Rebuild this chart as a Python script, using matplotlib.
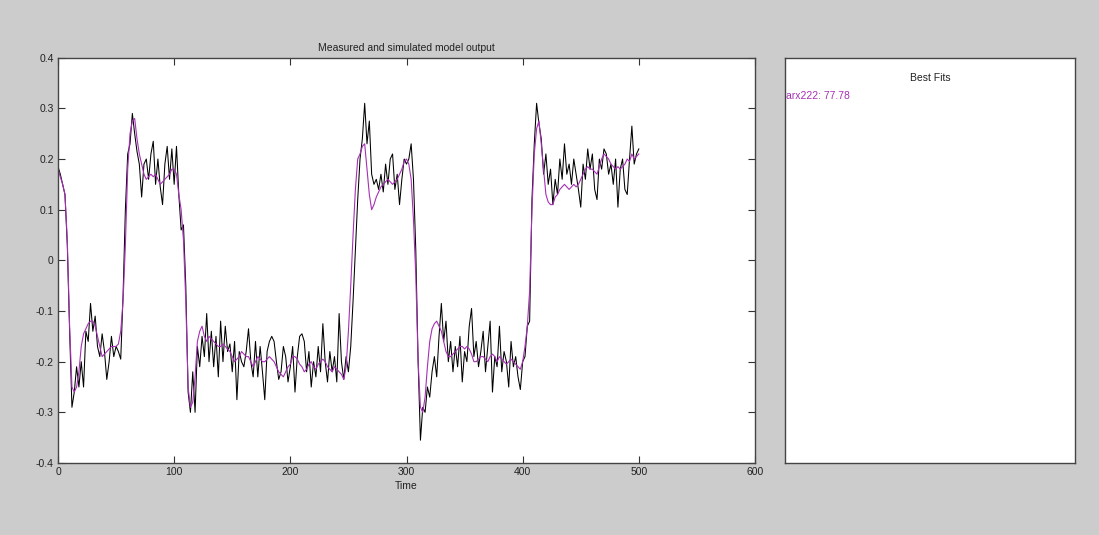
import numpy as np
import matplotlib
matplotlib.use("Agg")
import matplotlib.pyplot as plt

# Sample grid (every second time step)
time = np.arange(0, 501, 2)

# Measured output
measured = [
    0.185, 0.17, 0.15, 0.13, 0.03, -0.14, -0.29, -0.26, -0.21, -0.25,
    -0.20, -0.25, -0.14, -0.16, -0.085, -0.14, -0.11, -0.17, -0.19, -0.145,
    -0.18, -0.235, -0.20, -0.15, -0.19, -0.17, -0.18, -0.195, -0.07, 0.10,
    0.21, 0.23, 0.29, 0.25, 0.215, 0.19, 0.125, 0.19, 0.20, 0.16,
    0.21, 0.235, 0.15, 0.20, 0.145, 0.11, 0.19, 0.225, 0.16, 0.22,
    0.15, 0.225, 0.13, 0.06, 0.07, -0.05, -0.26, -0.30, -0.22, -0.30,
    -0.17, -0.21, -0.15, -0.19, -0.105, -0.20, -0.14, -0.21, -0.15, -0.23,
    -0.12, -0.20, -0.13, -0.18, -0.165, -0.22, -0.16, -0.275, -0.18, -0.20,
    -0.21, -0.18, -0.135, -0.20, -0.23, -0.16, -0.23, -0.17, -0.22, -0.275,
    -0.18, -0.16, -0.15, -0.16, -0.20, -0.235, -0.22, -0.17, -0.19, -0.24,
    -0.21, -0.17, -0.26, -0.19, -0.15, -0.145, -0.16, -0.22, -0.18, -0.25,
    -0.20, -0.23, -0.17, -0.22, -0.125, -0.20, -0.24, -0.18, -0.22, -0.19,
    -0.24, -0.105, -0.20, -0.235, -0.19, -0.22, -0.17, -0.08, 0.02, 0.12,
    0.20, 0.24, 0.31, 0.23, 0.275, 0.17, 0.15, 0.16, 0.14, 0.17,
    0.135, 0.19, 0.15, 0.20, 0.21, 0.14, 0.17, 0.11, 0.16, 0.20,
    0.19, 0.20, 0.23, 0.16, 0.02, -0.20, -0.355, -0.29, -0.30, -0.25,
    -0.27, -0.22, -0.19, -0.23, -0.15, -0.085, -0.16, -0.12, -0.20, -0.16,
    -0.22, -0.17, -0.21, -0.15, -0.24, -0.18, -0.20, -0.13, -0.095, -0.19,
    -0.16, -0.21, -0.18, -0.14, -0.22, -0.17, -0.12, -0.26, -0.19, -0.21,
    -0.13, -0.22, -0.18, -0.20, -0.25, -0.16, -0.21, -0.19, -0.23, -0.255,
    -0.20, -0.19, -0.13, -0.12, 0.12, 0.23, 0.31, 0.27, 0.24, 0.17,
    0.21, 0.15, 0.18, 0.11, 0.16, 0.13, 0.20, 0.16, 0.23, 0.17,
    0.19, 0.15, 0.20, 0.17, 0.14, 0.105, 0.19, 0.16, 0.22, 0.18,
    0.21, 0.14, 0.12, 0.20, 0.18, 0.22, 0.21, 0.17, 0.19, 0.15,
    0.20, 0.105, 0.18, 0.20, 0.14, 0.13, 0.20, 0.265, 0.19, 0.21,
    0.22,
]

# Simulated output of the arx222 model
simulated = [
    0.18, 0.165, 0.15, 0.13, 0.04, -0.13, -0.25, -0.26, -0.25, -0.22,
    -0.17, -0.145, -0.135, -0.125, -0.12, -0.12, -0.13, -0.15, -0.17, -0.19,
    -0.185, -0.18, -0.175, -0.17, -0.17, -0.17, -0.165, -0.14, -0.08, 0.03,
    0.18, 0.25, 0.275, 0.28, 0.24, 0.21, 0.19, 0.17, 0.16, 0.165,
    0.17, 0.165, 0.17, 0.16, 0.15, 0.155, 0.16, 0.165, 0.17, 0.18,
    0.18, 0.17, 0.13, 0.10, 0.04, -0.08, -0.25, -0.29, -0.28, -0.23,
    -0.16, -0.14, -0.13, -0.15, -0.16, -0.15, -0.155, -0.16, -0.165, -0.17,
    -0.17, -0.165, -0.17, -0.175, -0.18, -0.19, -0.20, -0.195, -0.19, -0.18,
    -0.185, -0.19, -0.19, -0.20, -0.21, -0.20, -0.19, -0.195, -0.20, -0.20,
    -0.195, -0.19, -0.195, -0.20, -0.21, -0.22, -0.225, -0.23, -0.22, -0.21,
    -0.205, -0.19, -0.19, -0.195, -0.205, -0.21, -0.22, -0.215, -0.205, -0.20,
    -0.21, -0.215, -0.205, -0.20, -0.195, -0.20, -0.21, -0.215, -0.22, -0.21,
    -0.215, -0.22, -0.225, -0.235, -0.21, -0.14, -0.05, 0.05, 0.14, 0.20,
    0.21, 0.225, 0.23, 0.18, 0.13, 0.10, 0.11, 0.125, 0.135, 0.145,
    0.15, 0.155, 0.16, 0.155, 0.15, 0.155, 0.16, 0.17, 0.18, 0.195,
    0.20, 0.19, 0.16, 0.08, -0.03, -0.20, -0.29, -0.30, -0.27, -0.21,
    -0.16, -0.135, -0.125, -0.12, -0.13, -0.14, -0.16, -0.18, -0.19, -0.19,
    -0.185, -0.18, -0.175, -0.17, -0.17, -0.175, -0.17, -0.175, -0.185, -0.20,
    -0.20, -0.195, -0.19, -0.19, -0.195, -0.20, -0.19, -0.185, -0.19, -0.20,
    -0.19, -0.195, -0.20, -0.205, -0.20, -0.195, -0.20, -0.205, -0.21, -0.215,
    -0.20, -0.17, -0.13, -0.06, 0.10, 0.21, 0.26, 0.275, 0.23, 0.18,
    0.13, 0.115, 0.11, 0.11, 0.125, 0.13, 0.14, 0.145, 0.15, 0.145,
    0.14, 0.145, 0.15, 0.145, 0.15, 0.16, 0.17, 0.18, 0.185, 0.18,
    0.18, 0.175, 0.17, 0.185, 0.20, 0.21, 0.205, 0.20, 0.19, 0.185,
    0.18, 0.185, 0.18, 0.185, 0.19, 0.20, 0.195, 0.21, 0.20, 0.205,
    0.21,
]

x_ticks = [0, 100, 200, 300, 400, 500, 600]
y_ticks = [-0.4, -0.3, -0.2, -0.1, 0, 0.1, 0.2, 0.3, 0.4]
y_tick_labels = ["-0.4", "-0.3", "-0.2", "-0.1", "0", "0.1", "0.2", "0.3", "0.4"]

model_name = "arx222"
fit_percent = 77.78

BG = "#cccccc"
PURPLE = "#a630b4"
FONT = ["Liberation Sans", "DejaVu Sans"]
plt.rcParams["font.family"] = FONT

fig = plt.figure(figsize=(10.99, 5.35), dpi=100, facecolor=BG)

# Main axes: measured vs simulated output
ax = fig.add_axes([58 / 1099, 72 / 535, 697 / 1099, 405.3 / 535])
ax.set_facecolor("white")
ax.plot(time, measured, color="black", lw=0.75)
ax.plot(time, simulated, color=PURPLE, lw=0.8)
ax.set_xlim(0, 600)
ax.set_ylim(-0.4, 0.4)
ax.set_xticks(x_ticks)
ax.set_xticklabels([str(v) for v in x_ticks])
ax.set_yticks(y_ticks)
ax.set_yticklabels(y_tick_labels)
ax.tick_params(direction="in", length=5, width=0.8, color="#333333",
               labelsize=7.5, top=True, right=True, pad=3, labelcolor="#222222")
for s in ax.spines.values():
    s.set_color("#444444")
    s.set_linewidth(1.0)
ax.set_title("Measured and simulated model output", fontsize=7.5,
             color="#222222", pad=5)
ax.set_xlabel("Time", fontsize=7.5, color="#222222", labelpad=3)

# Side panel listing the best fit
ax2 = fig.add_axes([785 / 1099, 72 / 535, 290 / 1099, 405.3 / 535])
ax2.set_facecolor("white")
ax2.set_xticks([])
ax2.set_yticks([])
for s in ax2.spines.values():
    s.set_color("#444444")
    s.set_linewidth(1.0)
ax2.text(0.5, 0.95, "Best Fits", transform=ax2.transAxes, ha="center",
         va="center", fontsize=7.5, color="#222222")
ax2.text(0.003, 0.905, f"{model_name}: {fit_percent:.2f}", transform=ax2.transAxes,
         ha="left", va="center", fontsize=7.5, color=PURPLE)

fig.savefig("out.png", dpi=100, facecolor=BG)
